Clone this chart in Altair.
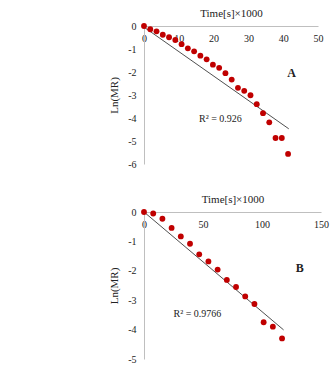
import altair as alt
import pandas as pd

# Panel A: drying time (s x 1000) vs Ln(MR)
time_a = [0, 1.8, 3.6, 5.4, 7.2, 9.0, 10.8, 12.6, 14.4, 16.2, 18.0, 19.8,
          21.6, 23.4, 25.2, 27.0, 28.8, 30.6, 32.4, 34.2, 36.0, 37.8, 39.6, 41.4]
lnmr_a = [0, -0.14, -0.23, -0.38, -0.49, -0.61, -0.79, -0.97, -1.10, -1.29,
          -1.45, -1.68, -1.82, -2.05, -2.33, -2.69, -2.82, -3.01, -3.40, -3.79,
          -4.19, -4.87, -4.87, -5.56]
trend_a_x = [0, 41.6]
trend_a_y = [-0.05, -4.47]

# Panel B
time_b = [0, 7.8, 15.6, 23.4, 31.2, 39.0, 46.8, 54.6, 62.4, 70.2, 78.0, 85.8,
          93.6, 101.4, 109.2, 117.0]
lnmr_b = [0, -0.05, -0.23, -0.54, -0.83, -1.08, -1.44, -1.68, -1.96, -2.31,
          -2.55, -2.87, -3.13, -3.75, -3.90, -4.30]
trend_b_x = [0, 118.3]
trend_b_y = [0, -4.01]

FONT = "Liberation Serif"
DOT = "#C00000"
AXIS_GREY = "#BFBFBF"


def panel(tx, ty, lx, ly, x_max, x_ticks, y_min, w, h,
          r2_text, r2_x, r2_y, tag, tag_x, tag_y):
    pts = pd.DataFrame({"t": tx, "v": ty})
    trend = pd.DataFrame({"t": lx, "v": ly})
    xs = alt.Scale(domain=[0, x_max], nice=False, zero=True)
    ys = alt.Scale(domain=[y_min, 0], nice=False)
    x_axis = alt.Axis(orient="top", values=x_ticks, ticks=False, tickSize=0,
                      grid=False, domainColor=AXIS_GREY, domainWidth=1,
                      labelFont=FONT, labelFontSize=10, labelColor="#222",
                      labelPadding=-12, labelBaseline="middle",
                      labelOverlap=False, labelFlush=False, labelBound=False,
                      title="Time[s]×1000", titleFont=FONT, titleFontSize=11,
                      titleFontWeight="normal", titleColor="#222",
                      titleY=-13, titleBaseline="middle")
    y_axis = alt.Axis(orient="left", values=list(range(y_min, 1)), ticks=False,
                      tickSize=0, grid=False, domainColor=AXIS_GREY, domainWidth=1,
                      labelFont=FONT, labelFontSize=10, labelColor="#222",
                      labelPadding=8, labelExpr="'' + datum.value",
                      labelOverlap=False, labelFlush=False, labelBound=False,
                      title="Ln(MR)", titleFont=FONT, titleFontSize=11,
                      titleFontWeight="normal", titleColor="#222",
                      titleX=-30, titleY=h / 2, titleBaseline="middle",
                      titleAlign="center", titleAngle=270)
    xe = alt.X("t:Q", scale=xs, axis=x_axis)
    ye = alt.Y("v:Q", scale=ys, axis=y_axis)

    line = alt.Chart(trend).mark_line(color="#222", strokeWidth=0.8).encode(x=xe, y=ye)
    dots = alt.Chart(pts).mark_circle(color=DOT, opacity=1, size=34).encode(x=xe, y=ye)
    r2 = alt.Chart(pd.DataFrame({"t": [r2_x], "v": [r2_y], "s": [r2_text]})).mark_text(
        font=FONT, fontSize=10, align="left", baseline="middle", color="#222"
    ).encode(x=xe, y=ye, text="s:N")
    letter = alt.Chart(pd.DataFrame({"t": [tag_x], "v": [tag_y], "s": [tag]})).mark_text(
        font=FONT, fontSize=12, fontWeight="bold", align="center",
        baseline="middle", color="#222"
    ).encode(x=xe, y=ye, text="s:N")
    return alt.layer(line, dots, r2, letter).properties(width=w, height=h)


top = panel(time_a, lnmr_a, trend_a_x, trend_a_y, 50, [0, 10, 20, 30, 40, 50], -6,
            174, 138, "R² = 0.926", 15.8, -4.04, "A", 42.4, -2.03)
bottom = panel(time_b, lnmr_b, trend_b_x, trend_b_y, 150, [0, 50, 100, 150], -5,
               177, 147, "R² = 0.9766", 25, -3.46, "B", 131.9, -1.89)

chart = alt.vconcat(top, bottom, spacing=24).properties(
    padding={"left": 108, "top": 7, "right": 5, "bottom": 5},
    background="white",
).configure_view(stroke=None)

chart.save("out.html", embed_options={"renderer": "svg", "actions": False})
